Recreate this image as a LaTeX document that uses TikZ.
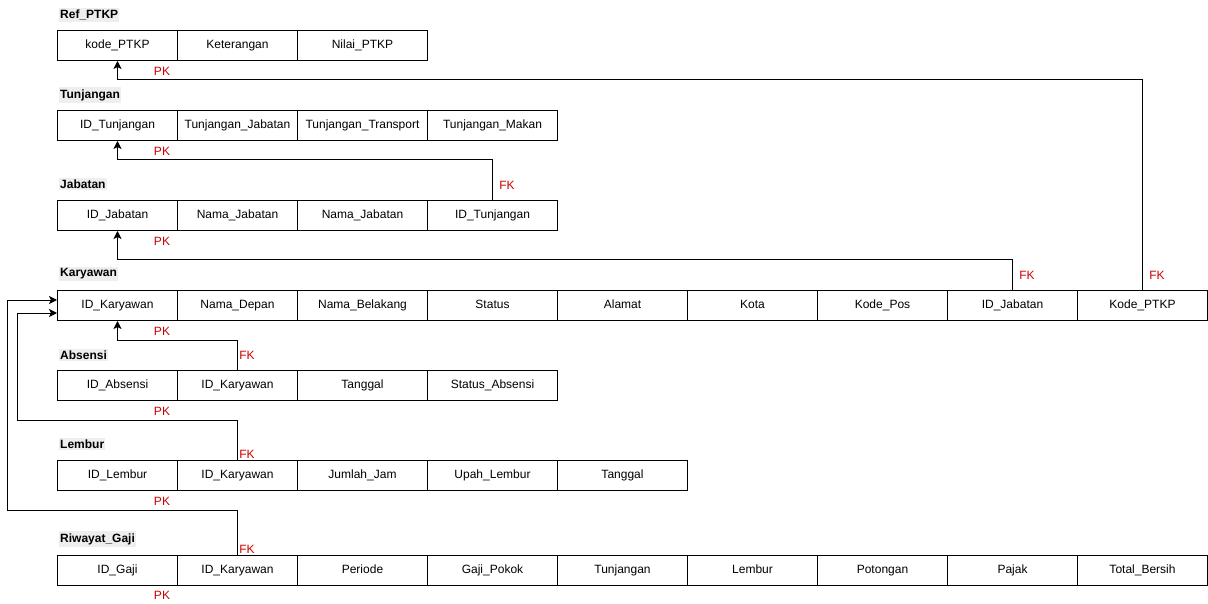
\documentclass[tikz,border=0pt]{standalone}
\usepackage{fontspec}
\setmainfont{Liberation Sans}
\usetikzlibrary{arrows.meta,calc}
\definecolor{pkred}{HTML}{CC0000}
\definecolor{titlebg}{HTML}{EEEEEE}
\tikzset{
  cell/.style={draw, line width=1pt, anchor=north west, minimum height=30pt, inner sep=0pt, text height=9pt, text depth=3pt, font=\fontsize{12}{14}\selectfont},
  wa/.style={cell, minimum width=120pt},
  wb/.style={cell, minimum width=130pt},
  ttl/.style={anchor=west, fill=titlebg, inner xsep=1pt, inner ysep=2pt, font=\fontsize{12}{14}\selectfont\bfseries},
  keylbl/.style={text=pkred, inner sep=0pt, font=\fontsize{12}{14}\selectfont},
  conn/.style={line width=1pt, -{Stealth[length=8pt,width=8pt,inset=2pt]}},
}
\begin{document}
\begin{tikzpicture}[x=1pt,y=-1pt]
\useasboundingbox (0,0) rectangle (1208,604);
% Ref_PTKP
\node[ttl] (tr) at (59,15) {Ref\_PTKP};
\node[wa] (r1) at (57,30) {kode\_PTKP};
\node[wa] (r2) at (177,30) {Keterangan};
\node[wb] (r3) at (297,30) {Nilai\_PTKP};
\node[keylbl] (rpk) at (162,71) {PK};
% Tunjangan
\node[ttl] (tt) at (59,95) {Tunjangan};
\node[wa] (t1) at (57,110) {ID\_Tunjangan};
\node[wa] (t2) at (177,110) {Tunjangan\_Jabatan};
\node[wb] (t3) at (297,110) {Tunjangan\_Transport};
\node[wb] (t4) at (427,110) {Tunjangan\_Makan};
\node[keylbl] (tpk) at (162,151) {PK};
% Jabatan
\node[ttl] (tj) at (59,184) {Jabatan};
\node[wa] (j1) at (57,200) {ID\_Jabatan};
\node[wa] (j2) at (177,200) {Nama\_Jabatan};
\node[wb] (j3) at (297,200) {Nama\_Jabatan};
\node[wb] (j4) at (427,200) {ID\_Tunjangan};
\node[keylbl] (jpk) at (162,241) {PK};
\node[keylbl] (jfk) at (507,185) {FK};
% Karyawan
\node[ttl] (tk) at (59,274) {Karyawan};
\node[wa] (k1) at (57,290) {ID\_Karyawan};
\node[wa] (k2) at (177,290) {Nama\_Depan};
\node[wb] (k3) at (297,290) {Nama\_Belakang};
\node[wb] (k4) at (427,290) {Status};
\node[wb] (k5) at (557,290) {Alamat};
\node[wb] (k6) at (687,290) {Kota};
\node[wb] (k7) at (817,290) {Kode\_Pos};
\node[wb] (k8) at (947,290) {ID\_Jabatan};
\node[wb] (k9) at (1077,290) {Kode\_PTKP};
\node[keylbl] (kpk) at (162,331) {PK};
\node[keylbl] (kfk1) at (1027,275) {FK};
\node[keylbl] (kfk2) at (1157,275) {FK};
% Absensi
\node[ttl] (ta) at (59,355) {Absensi};
\node[wa] (a1) at (57,370) {ID\_Absensi};
\node[wa] (a2) at (177,370) {ID\_Karyawan};
\node[wb] (a3) at (297,370) {Tanggal};
\node[wb] (a4) at (427,370) {Status\_Absensi};
\node[keylbl] (apk) at (162,411) {PK};
\node[keylbl] (afk) at (247,355) {FK};
% Lembur
\node[ttl] (tl) at (59,444) {Lembur};
\node[wa] (l1) at (57,460) {ID\_Lembur};
\node[wa] (l2) at (177,460) {ID\_Karyawan};
\node[wb] (l3) at (297,460) {Jumlah\_Jam};
\node[wb] (l4) at (427,460) {Upah\_Lembur};
\node[wb] (l5) at (557,460) {Tanggal};
\node[keylbl] (lpk) at (162,501) {PK};
\node[keylbl] (lfk) at (247,454) {FK};
% Riwayat_Gaji
\node[ttl] (tg) at (59,539) {Riwayat\_Gaji};
\node[wa] (g1) at (57,555) {ID\_Gaji};
\node[wa] (g2) at (177,555) {ID\_Karyawan};
\node[wb] (g3) at (297,555) {Periode};
\node[wb] (g4) at (427,555) {Gaji\_Pokok};
\node[wb] (g5) at (557,555) {Tunjangan};
\node[wb] (g6) at (687,555) {Lembur};
\node[wb] (g7) at (817,555) {Potongan};
\node[wb] (g8) at (947,555) {Pajak};
\node[wb] (g9) at (1077,555) {Total\_Bersih};
\node[keylbl] (gpk) at (162,595) {PK};
\node[keylbl] (gfk) at (247,549) {FK};
% connectors
\draw[conn] (k9.north) -- ++(0,-210) -| (r1.south);
\draw[conn] (j4.north) -- ++(0,-40) -| (t1.south);
\draw[conn] (k8.north) -- ++(0,-30) -| (j1.south);
\draw[conn] (a2.north) -- ++(0,-30) -| (k1.south);
\draw[conn] (l2.north) -- ++(0,-40) -- ++(-220,0) |- ($(k1.south west)+(0,-8)$);
\draw[conn] (g2.north) -- ++(0,-45) -- ++(-230,0) |- ($(k1.north west)+(0,10)$);
\end{tikzpicture}
\end{document}
